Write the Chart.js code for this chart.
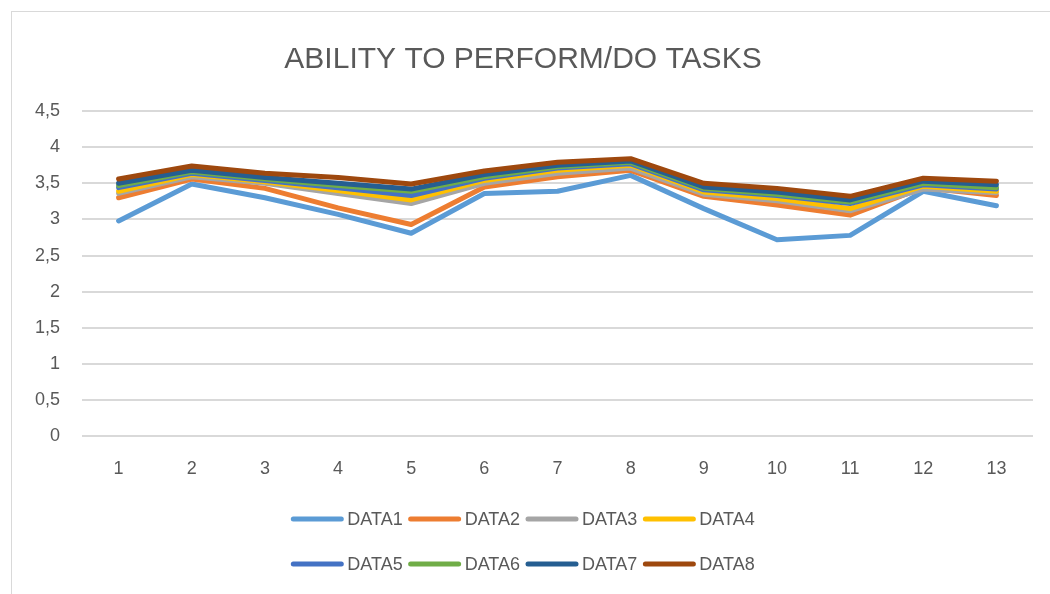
<!DOCTYPE html>
<html>
<head>
<meta charset="utf-8">
<script src="https://cdn.jsdelivr.net/npm/chart.js@4"></script>
<style>
  html, body { margin: 0; padding: 0; background: #fff; }
  #wrap { position: relative; width: 1050px; height: 594px; overflow: hidden; }
  #frame { position: absolute; left: 11px; top: 11px; width: 1100px; height: 700px; border: 1px solid #d9d9d9; }
  #myChart { position: absolute; left: 0; top: 0; }
</style>
</head>
<body>
<div id="wrap">
  <div id="frame"></div>
  <canvas id="myChart" width="1050" height="594"></canvas>
</div>
<script>
const labels = ['1', '2', '3', '4', '5', '6', '7', '8', '9', '10', '11', '12', '13'];
const seriesNames = ['DATA1', 'DATA2', 'DATA3', 'DATA4', 'DATA5', 'DATA6', 'DATA7', 'DATA8'];
const seriesColors = ['#5B9BD5', '#ED7D31', '#A5A5A5', '#FFC000', '#4472C4', '#70AD47', '#255E91', '#9E480E'];

const data1 = [2.98, 3.49, 3.30, 3.07, 2.81, 3.36, 3.39, 3.61, 3.15, 2.72, 2.78, 3.39, 3.19];
const data2 = [3.30, 3.56, 3.43, 3.16, 2.93, 3.45, 3.59, 3.68, 3.32, 3.20, 3.06, 3.44, 3.33];
const data3 = [3.36, 3.59, 3.50, 3.36, 3.22, 3.50, 3.64, 3.71, 3.35, 3.26, 3.12, 3.42, 3.37];
const data4 = [3.39, 3.62, 3.52, 3.40, 3.27, 3.54, 3.68, 3.75, 3.38, 3.29, 3.15, 3.46, 3.39];
const data5 = [3.44, 3.64, 3.54, 3.44, 3.33, 3.57, 3.71, 3.77, 3.41, 3.33, 3.22, 3.48, 3.42];
const data6 = [3.47, 3.66, 3.56, 3.47, 3.39, 3.59, 3.73, 3.79, 3.43, 3.35, 3.24, 3.50, 3.44];
const data7 = [3.50, 3.68, 3.58, 3.50, 3.42, 3.62, 3.75, 3.81, 3.45, 3.38, 3.27, 3.53, 3.48];
const data8 = [3.56, 3.74, 3.64, 3.58, 3.49, 3.67, 3.79, 3.84, 3.50, 3.43, 3.32, 3.57, 3.53];

const allSeries = [data1, data2, data3, data4, data5, data6, data7, data8];

const textColor = '#595959';
const fontFamily = '"Liberation Sans", Arial, sans-serif';

// legend drawn by hand: excel puts 4 per row
const excelLegend = {
  id: 'excelLegend',
  afterDraw(chart) {
    const ctx = chart.ctx;
    const sets = chart.data.datasets;
    const perRow = 4;
    const lineLen = 52;
    const rowsY = [519, 564];
    ctx.save();
    ctx.font = '18px ' + fontFamily;
    ctx.textBaseline = 'middle';
    for (let r = 0; r < rowsY.length; r++) {
      const items = sets.slice(r * perRow, r * perRow + perRow);
      const widths = items.map(d => lineLen + 4 + ctx.measureText(d.label).width + 6);
      const total = widths.reduce((a, b) => a + b, 0) - 6;
      let x = chart.width / 2 - 2 - total / 2;
      items.forEach((d, i) => {
        ctx.strokeStyle = d.borderColor;
        ctx.lineWidth = 5;
        ctx.lineCap = 'round';
        ctx.beginPath();
        ctx.moveTo(x + 2, rowsY[r]);
        ctx.lineTo(x + lineLen - 2, rowsY[r]);
        ctx.stroke();
        ctx.fillStyle = textColor;
        ctx.fillText(d.label, x + lineLen + 4, rowsY[r] + 1);
        x += widths[i];
      });
    }
    ctx.restore();
  }
};

function DisplayChart() {
  const datasets = allSeries.map((vals, i) => ({
    label: seriesNames[i],
    data: vals,
    borderColor: seriesColors[i],
    backgroundColor: seriesColors[i],
    borderWidth: 5,
    borderCapStyle: 'round',
    borderJoinStyle: 'round',
    pointRadius: 0,
    tension: 0,
    fill: false,
    order: allSeries.length - i
  }));

  const config = {
    type: 'line',
    data: { labels: labels, datasets: datasets },
    options: {
      responsive: false,
      animation: false,
      layout: { padding: { left: 13, right: 17, top: 0, bottom: 92 } },
      plugins: {
        legend: { display: false },
        tooltip: { enabled: false },
        title: {
          display: true,
          text: 'ABILITY TO PERFORM/DO TASKS',
          color: textColor,
          font: { family: fontFamily, size: 30, weight: 'normal' },
          padding: { top: 42, bottom: 33 }
        }
      },
      scales: {
        x: {
          offset: true,
          grid: { display: false, drawTicks: false },
          border: { display: false },
          ticks: { color: textColor, padding: 22, font: { family: fontFamily, size: 18 }, maxRotation: 0 }
        },
        y: {
          min: 0,
          max: 4.5,
          grid: { color: '#d9d9d9', lineWidth: 2, drawTicks: false },
          border: { display: false },
          ticks: {
            stepSize: 0.5,
            color: textColor,
            padding: 22,
            font: { family: fontFamily, size: 18 },
            callback: v => String(v).replace('.', ',')
          }
        }
      }
    },
    plugins: [excelLegend]
  };

  new Chart(document.getElementById('myChart'), config);
}

DisplayChart();
</script>
</body>
</html>
